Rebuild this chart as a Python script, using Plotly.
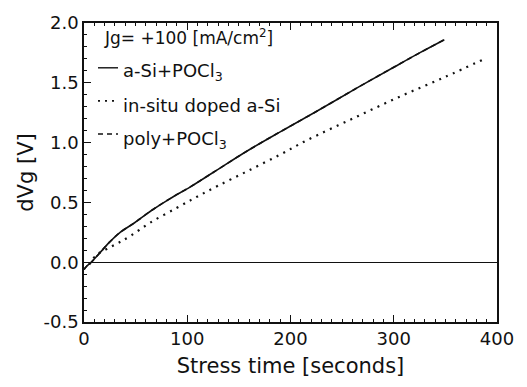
import plotly.graph_objects as go

# a-Si + POCl3 (solid)
asi_x = [0, 3, 7, 15, 25, 35, 49, 65, 83, 103, 125, 158, 190, 225, 267, 300, 325, 349]
asi_y = [-0.06, -0.03, 0.0, 0.075, 0.17, 0.25, 0.33, 0.43, 0.53, 0.63, 0.75, 0.93, 1.09, 1.26, 1.47, 1.63, 1.75, 1.86]

# in-situ doped a-Si (dotted)
insitu_x = [5, 12, 22, 33, 45, 64, 90, 110, 130, 158, 190, 216, 260, 306, 350, 388]
insitu_y = [-0.02, 0.06, 0.11, 0.16, 0.22, 0.33, 0.455, 0.55, 0.64, 0.76, 0.90, 1.02, 1.20, 1.385, 1.55, 1.70]

# poly + POCl3 (dashed) - hidden under the solid curve in the picture
poly_x = asi_x
poly_y = asi_y

legend_labels = ["a-Si+POCl<sub>3</sub>", "in-situ doped a-Si", "poly+POCl<sub>3</sub>"]
header = "Jg= +100 [mA/cm<sup>2</sup>]"

FONT = "DejaVu Sans, Arial, sans-serif"
INK = "#111111"

fig = go.Figure()
fig.add_trace(go.Scatter(x=poly_x, y=poly_y, mode="lines", line_shape="spline",
                         line=dict(color=INK, width=1.6, dash="5px,4px"), showlegend=False))
fig.add_trace(go.Scatter(x=insitu_x, y=insitu_y, mode="lines", line_shape="spline",
                         line=dict(color=INK, width=2.2, dash="2px,5.5px"), showlegend=False))
fig.add_trace(go.Scatter(x=asi_x, y=asi_y, mode="lines", line_shape="spline",
                         line=dict(color=INK, width=1.6), showlegend=False))

# legend drawn as text + sample strokes (paper coords)
W, H = 527, 387
L, R, T, B = 84, 30, 15, 65
pw, ph = W - L - R, H - T - B

def px(xp):
    return (xp - L) / pw

def py(yp):
    return 1 - (yp - T) / ph

fig.add_annotation(x=px(102), y=py(29), xref="paper", yref="paper", text=header,
                   showarrow=False, xanchor="left", yanchor="middle",
                   font=dict(family=FONT, size=17, color=INK))
samples = [("solid", 61, 65), ("2px,5px", 95, 100), ("5px,4px", 129, 135)]
for lab, (dash, ly, ty) in zip(legend_labels, samples):
    fig.add_shape(type="line", xref="paper", yref="paper",
                  x0=px(98), x1=px(118), y0=py(ly), y1=py(ly),
                  line=dict(color=INK, width=1.4 if dash != "2px,5px" else 1.8, dash=dash))
    fig.add_annotation(x=px(121), y=py(ty), xref="paper", yref="paper", text=lab,
                       showarrow=False, xanchor="left", yanchor="middle",
                       font=dict(family=FONT, size=18, color=INK))

fig.update_layout(
    width=W, height=H,
    margin=dict(l=L, r=R, t=T, b=B),
    paper_bgcolor="white", plot_bgcolor="white",
    font=dict(family=FONT, size=18, color=INK),
)
fig.update_xaxes(
    range=[0, 400], tickvals=[0, 100, 200, 300, 400],
    ticks="inside", ticklen=7, tickwidth=1.2, tickcolor=INK,
    minor=dict(dtick=10, ticks="inside", ticklen=3, tickcolor=INK),
    showline=True, linecolor=INK, linewidth=1.5, mirror="ticks",
    showgrid=False, zeroline=False,
    tickfont=dict(size=18),
    title=dict(text="Stress time [seconds]", font=dict(size=21), standoff=10),
)
fig.update_yaxes(
    range=[-0.5, 2.0], tickvals=[-0.5, 0.0, 0.5, 1.0, 1.5, 2.0],
    ticktext=["-0.5", "0.0", "0.5", "1.0", "1.5", "2.0"],
    ticks="inside", ticklen=7, tickwidth=1.2, tickcolor=INK,
    minor=dict(dtick=0.1, ticks="inside", ticklen=3, tickcolor=INK),
    showline=True, linecolor=INK, linewidth=1.5, mirror=True,
    showgrid=False, zeroline=True, zerolinecolor=INK, zerolinewidth=1.2,
    tickfont=dict(size=18),
    title=dict(text="dVg [V]", font=dict(size=21), standoff=4),
)

fig.write_html("out.html")
